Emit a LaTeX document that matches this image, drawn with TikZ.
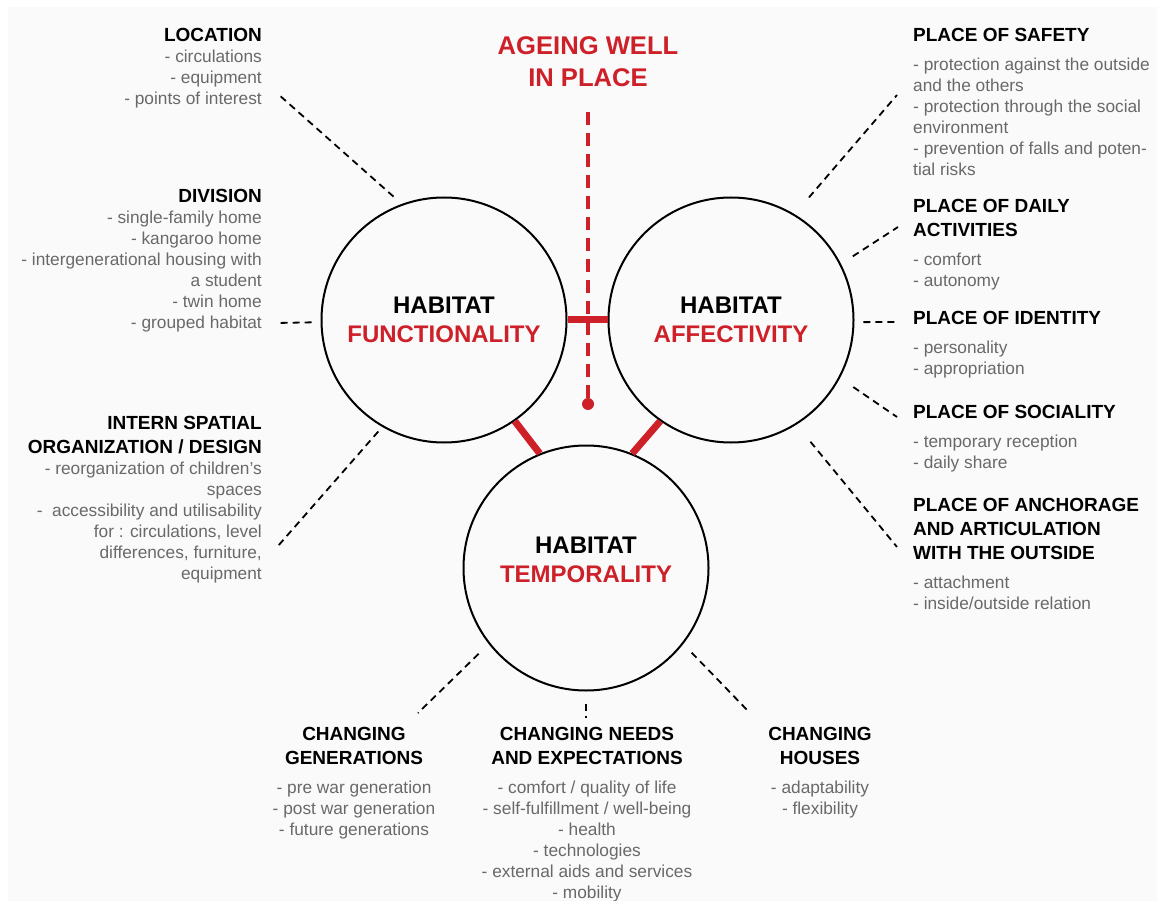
\documentclass[tikz,border=0pt]{standalone}
\usepackage{fontspec}
\setmainfont{Liberation Sans}
\usetikzlibrary{positioning}
\definecolor{habRed}{RGB}{206,32,41}
\definecolor{itemGray}{RGB}{105,105,105}
\definecolor{paperGray}{RGB}{250,250,250}
\tikzstyle{habCircle} = [circle, draw=black, line width=2pt, minimum size=245pt, inner sep=0pt]
\tikzstyle{habText} = [align=center, font=\bfseries\fontsize{24}{29}\selectfont, inner sep=0pt]
\tikzstyle{headNode} = [font=\bfseries\fontsize{19}{24}\selectfont, text=black, inner sep=0pt]
\tikzstyle{itemNode} = [font=\fontsize{17.3}{21}\selectfont, text=itemGray, inner sep=0pt]
\tikzstyle{dashLine} = [line width=1.8pt, dash pattern=on 7pt off 5pt]
\tikzstyle{redBar} = [draw=habRed, line width=7pt]
\tikzstyle{redDash} = [draw=habRed, line width=4pt, dash pattern=on 13pt off 8pt]

\begin{document}
\begin{tikzpicture}[x=1pt, y=-1pt]
        \useasboundingbox (0,0) rectangle (1157,901);
        \fill [paperGray] (8,7) rectangle (1157,901);

        % the three habitat circles
        \node (fun) [habCircle] at (444,320) {};
        \node (aff) [habCircle] at (731,320) {};
        \node (temp) [habCircle] at (586,568) {};
        \node (funTxt) [habText] at (fun) {HABITAT\\\textcolor{habRed}{FUNCTIONALITY}};
        \node (affTxt) [habText] at (aff) {HABITAT\\\textcolor{habRed}{AFFECTIVITY}};
        \node (tempTxt) [habText] at ([yshift=8pt]temp) {HABITAT\\\textcolor{habRed}{TEMPORALITY}};

        \node (title) [font=\bfseries\fontsize{25.6}{32}\selectfont, text=habRed, align=center, inner sep=0pt, anchor=north] at (588,36) {AGEING WELL\\IN PLACE};
        \node (redDot) [circle, fill=habRed, minimum size=12pt, inner sep=0pt] at (588,404) {};

        \draw [redDash] ([yshift=-25pt]title.south) -- (redDot);
        \draw [redBar] (fun) -- (aff);
        \draw [redBar] (fun.-55) -- (temp.112);
        \draw [redBar] (aff.-125) -- (temp.68);

        % functionality side
        \node (locH) [headNode, anchor=north east] at (262,28) {LOCATION};
        \node (locB) [itemNode, align=right, below left=8pt and 0pt of locH.south east] {- circulations\\- equipment\\- points of interest};
        \node (divH) [headNode, anchor=north east] at (262,189) {DIVISION};
        \node (divB) [itemNode, align=right, below left=8pt and 0pt of divH.south east] {- single-family home\\- kangaroo home\\- intergenerational housing with\\a student\\- twin home\\- grouped habitat};
        \node (intH) [headNode, align=right, anchor=north east] at (262,416) {INTERN SPATIAL\\ORGANIZATION / DESIGN};
        \node (intB) [itemNode, align=right, below left=8pt and 0pt of intH.south east] {- reorganization of children’s\\spaces\\- \ accessibility and utilisability\\for : circulations, level\\differences, furniture,\\equipment};

        % affectivity side
        \node (safH) [headNode, anchor=north west] at (913,28) {PLACE OF SAFETY};
        \node (safB) [itemNode, align=left, below right=16pt and 0pt of safH.south west] {- protection against the outside\\and the others\\- protection through the social\\environment\\- prevention of falls and poten-\\tial risks};
        \node (dayH) [headNode, align=left, anchor=north west] at (913,199) {PLACE OF DAILY\\ACTIVITIES};
        \node (dayB) [itemNode, align=left, below right=16pt and 0pt of dayH.south west] {- comfort\\- autonomy};
        \node (idH) [headNode, anchor=north west] at (913,311) {PLACE OF IDENTITY};
        \node (idB) [itemNode, align=left, below right=16pt and 0pt of idH.south west] {- personality\\- appropriation};
        \node (socH) [headNode, anchor=north west] at (913,405) {PLACE OF SOCIALITY};
        \node (socB) [itemNode, align=left, below right=16pt and 0pt of socH.south west] {- temporary reception\\- daily share};
        \node (ancH) [headNode, align=left, anchor=north west] at (913,498) {PLACE OF ANCHORAGE\\AND ARTICULATION\\WITH THE OUTSIDE};
        \node (ancB) [itemNode, align=left, below right=16pt and 0pt of ancH.south west] {- attachment\\- inside/outside relation};

        % temporality side
        \node (genH) [headNode, align=center, anchor=north] at (354,727) {CHANGING\\GENERATIONS};
        \node (genB) [itemNode, align=center, below=16pt of genH] {- pre war generation\\- post war generation\\- future generations};
        \node (needH) [headNode, align=center, anchor=north] at (587,727) {CHANGING NEEDS\\AND EXPECTATIONS};
        \node (needB) [itemNode, align=center, below=16pt of needH] {- comfort / quality of life\\- self-fulfillment / well-being\\- health\\- technologies\\- external aids and services\\- mobility};
        \node (housH) [headNode, align=center, anchor=north] at (820,727) {CHANGING\\HOUSES};
        \node (housB) [itemNode, align=center, below=16pt of housH] {- adaptability\\- flexibility};

        % dashed leaders
        \coordinate (locEnd) at (278,94);
        \coordinate (divEnd) at (277,323);
        \coordinate (intEnd) at (278,546);
        \coordinate (safEnd) at (897,95);
        \coordinate (dayEnd) at (898,227);
        \coordinate (idEnd) at (897,322);
        \coordinate (socEnd) at (897,417);
        \coordinate (ancEnd) at (897,547);
        \coordinate (genEnd) at (418,713);
        \coordinate (needEnd) at (586,718);
        \coordinate (housEnd) at (750,713);

        \draw [dashLine, shorten <=11pt] (fun.110) -- (locEnd);
        \draw [dashLine, shorten <=9pt] (fun.181) -- (divEnd);
        \draw [dashLine, shorten <=6pt] (fun.240) -- (intEnd);
        \draw [dashLine, shorten <=22pt] (aff.59) -- (safEnd);
        \draw [dashLine, shorten <=14pt] (aff.27) -- (dayEnd);
        \draw [dashLine, shorten <=9pt] (aff.-1) -- (idEnd);
        \draw [dashLine, shorten <=16pt] (aff.-28) -- (socEnd);
        \draw [dashLine, shorten <=22pt] (aff.-58) -- (ancEnd);
        \draw [dashLine, shorten <=14pt] (temp.218.5) -- (genEnd);
        \draw [dashLine, shorten <=12pt] (temp.270) -- (needEnd);
        \draw [dashLine, shorten <=12pt] (temp.-38) -- (housEnd);
    \end{tikzpicture}
\end{document}
